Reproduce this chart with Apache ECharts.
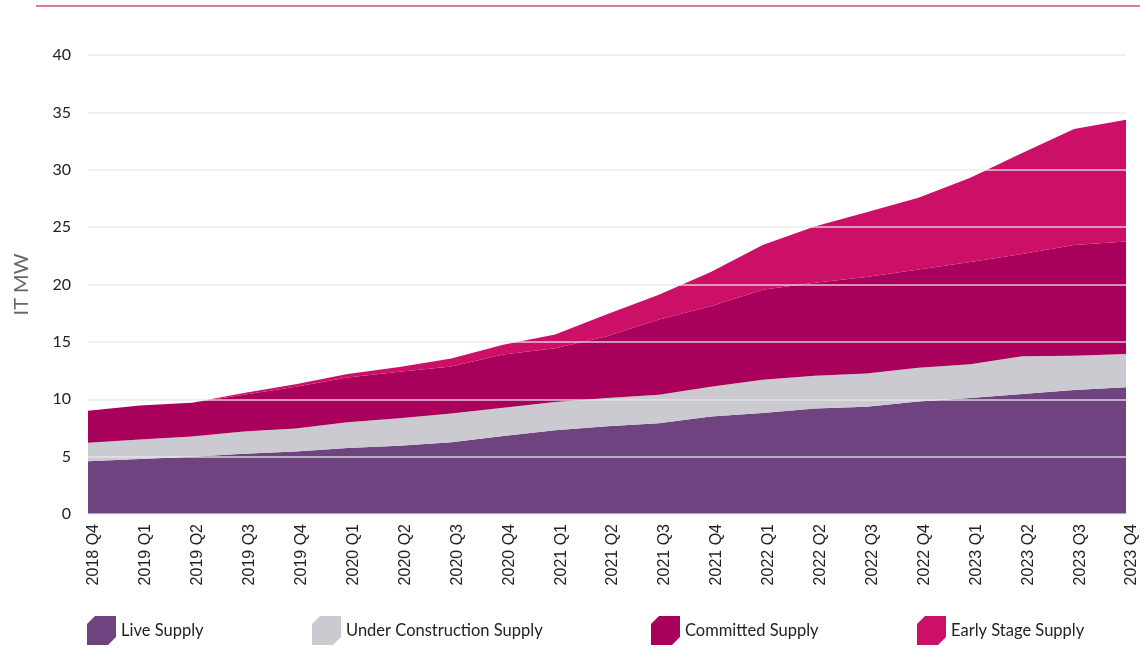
<!DOCTYPE html>
<html>
<head>
<meta charset="utf-8">
<script src="https://cdn.jsdelivr.net/npm/echarts@6/dist/echarts.min.js"></script>
<style>
  html, body { margin: 0; padding: 0; background: #ffffff; }
  #chart { width: 1140px; height: 661px; }
</style>
</head>
<body>
<div id="chart"></div>
<script>
// Quarterly IT MW supply pipeline, stacked by stage
const quarters = [
  '2018 Q4', '2019 Q1', '2019 Q2', '2019 Q3', '2019 Q4',
  '2020 Q1', '2020 Q2', '2020 Q3', '2020 Q4',
  '2021 Q1', '2021 Q2', '2021 Q3', '2021 Q4',
  '2022 Q1', '2022 Q2', '2022 Q3', '2022 Q4',
  '2023 Q1', '2023 Q2', '2023 Q3', '2023 Q4'
];

const liveSupply = [4.6, 4.8, 5.0, 5.25, 5.45, 5.75, 5.95, 6.25, 6.8, 7.3, 7.65, 7.9, 8.5, 8.8, 9.2, 9.35, 9.8, 10.1, 10.45, 10.8, 11.05];
const underConstructionSupply = [1.6, 1.7, 1.75, 1.95, 2.0, 2.25, 2.4, 2.5, 2.45, 2.45, 2.45, 2.5, 2.6, 2.9, 2.85, 2.9, 2.95, 2.95, 3.3, 3.0, 2.9];
const committedSupply = [2.8, 2.95, 2.95, 3.2, 3.65, 3.9, 4.05, 4.1, 4.65, 4.7, 5.4, 6.55, 7.0, 7.85, 8.1, 8.4, 8.55, 8.9, 8.9, 9.65, 9.8];
const earlyStageSupply = [0, 0, 0, 0.15, 0.2, 0.3, 0.4, 0.7, 0.85, 1.2, 1.9, 2.15, 3.0, 3.9, 4.9, 5.65, 6.25, 7.35, 8.8, 10.1, 10.6];

const yTicks = { min: 0, max: 40, interval: 5 };

const seriesNames = ['Live Supply', 'Under Construction Supply', 'Committed Supply', 'Early Stage Supply'];
const seriesColors = ['#6e4380', '#cbcad0', '#a9005c', '#cd1067'];
const seriesValues = [liveSupply, underConstructionSupply, committedSupply, earlyStageSupply];

// legend swatch: square with clipped top-left and bottom-right corners
const swatch = 'path://M8,0 L29,0 L29,21 L21,29 L0,29 L0,8 Z';
const legendLefts = [87, 312, 651, 917];

const chart = echarts.init(document.getElementById('chart'), null, { renderer: 'canvas' });

chart.setOption({
  animation: false,
  backgroundColor: '#ffffff',
  color: seriesColors,
  graphic: [{
    type: 'line',
    shape: { x1: 36, y1: 6, x2: 1140, y2: 6 },
    style: { stroke: '#d67aa6', lineWidth: 2 },
    silent: true
  }],
  grid: { left: 88, right: 2, top: 55, bottom: 147, containLabel: false },
  legend: seriesNames.map((name, i) => ({
    data: [{ name: name, icon: swatch }],
    left: legendLefts[i],
    top: 616,
    padding: 0,
    itemWidth: 29,
    itemHeight: 29,
    itemGap: 0,
    selectedMode: false,
    textStyle: { fontFamily: 'Lato', fontSize: 16.5, color: '#222222', padding: [3, 0, 0, 0] }
  })),
  xAxis: {
    type: 'category',
    data: quarters,
    boundaryGap: false,
    axisLine: { show: false },
    axisTick: { show: false },
    splitLine: { show: false },
    axisLabel: {
      rotate: 90,
      interval: 0,
      margin: 10,
      fontFamily: 'Liberation Sans',
      fontSize: 16,
      color: '#222222',
      verticalAlign: 'top',
      lineHeight: 12
    }
  },
  yAxis: {
    type: 'value',
    min: yTicks.min,
    max: yTicks.max,
    interval: yTicks.interval,
    z: 5,
    name: 'IT MW',
    nameLocation: 'middle',
    nameGap: 56,
    nameRotate: 90,
    nameTextStyle: { fontFamily: 'Lato', fontSize: 20, color: '#666666' },
    axisLine: { show: false },
    axisTick: { show: false },
    axisLabel: { fontFamily: 'Lato', fontSize: 16, color: '#222222', margin: 17 },
    splitLine: { show: true, lineStyle: { color: 'rgba(232,232,236,0.85)', width: 1.5 } }
  },
  series: seriesNames.map((name, i) => ({
    name: name,
    type: 'line',
    stack: 'supply',
    data: seriesValues[i],
    symbol: 'none',
    showSymbol: false,
    lineStyle: { width: 0 },
    areaStyle: { color: seriesColors[i], opacity: 1 },
    itemStyle: { color: seriesColors[i] },
    emphasis: { disabled: true },
    z: 2
  }))
});
</script>
</body>
</html>
